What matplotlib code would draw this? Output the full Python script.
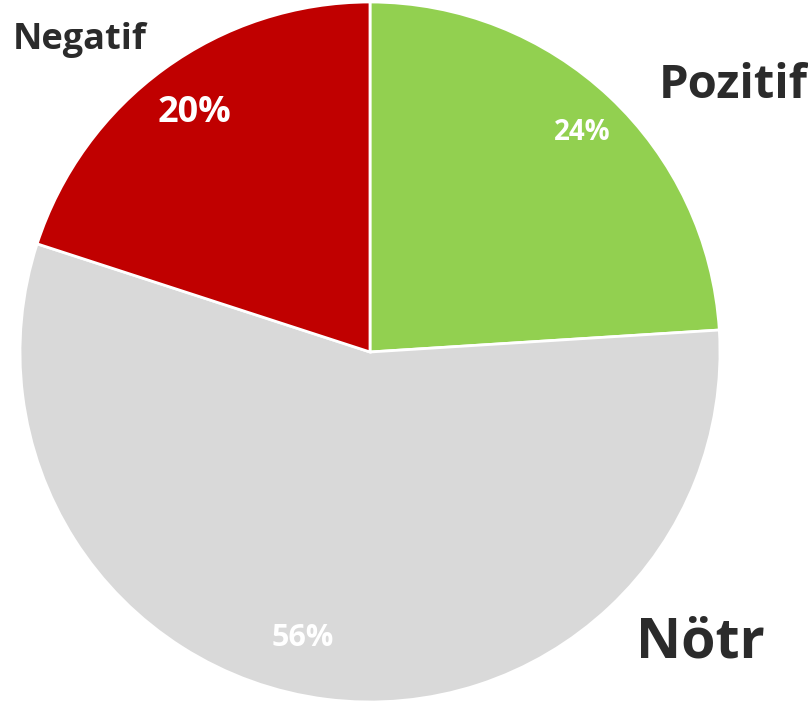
import matplotlib.pyplot as plt

# Duygu dağılımı
kategoriler = ["Pozitif", "Nötr", "Negatif"]
oranlar = [24, 56, 20]
renkler = ["#92d050", "#d9d9d9", "#c00000"]

W, H = 808, 707
fig = plt.figure(figsize=(W / 100, H / 100), dpi=100)
ax = fig.add_axes([0, 0, 1, 1])
ax.set_xlim(0, W)
ax.set_ylim(0, H)
ax.set_aspect("equal")
ax.axis("off")

merkez = (370, H - 352)
ax.pie(
    oranlar,
    colors=renkler,
    startangle=90,
    counterclock=False,
    center=merkez,
    radius=350,
    wedgeprops=dict(edgecolor="white", linewidth=2),
    frame=True,
)
ax.set_xlim(0, W)
ax.set_ylim(0, H)
ax.axis("off")

font = "Open Sans"
koyu = "#2b2b2b"

# kategori etiketleri
etiketler = {
    "Pozitif": ((733, 85), 34),
    "Nötr": ((700, 643), 40),
    "Negatif": ((80, 40), 26),
}
for ad, ((x, y), boy) in etiketler.items():
    ax.text(x, H - y, ad, ha="center", va="center", fontsize=boy,
            fontweight="bold", family=font, color=koyu)

# yüzde etiketleri
yuzde_yer = {
    "Pozitif": ((582, 133), 20),
    "Nötr": ((303, 638), 22),
    "Negatif": ((194, 113), 26),
}
for ad, oran in zip(kategoriler, oranlar):
    (x, y), boy = yuzde_yer[ad]
    ax.text(x, H - y, f"{oran}%", ha="center", va="center", fontsize=boy,
            fontweight="bold", family=font, color="white")

fig.savefig("out.png", dpi=100)
